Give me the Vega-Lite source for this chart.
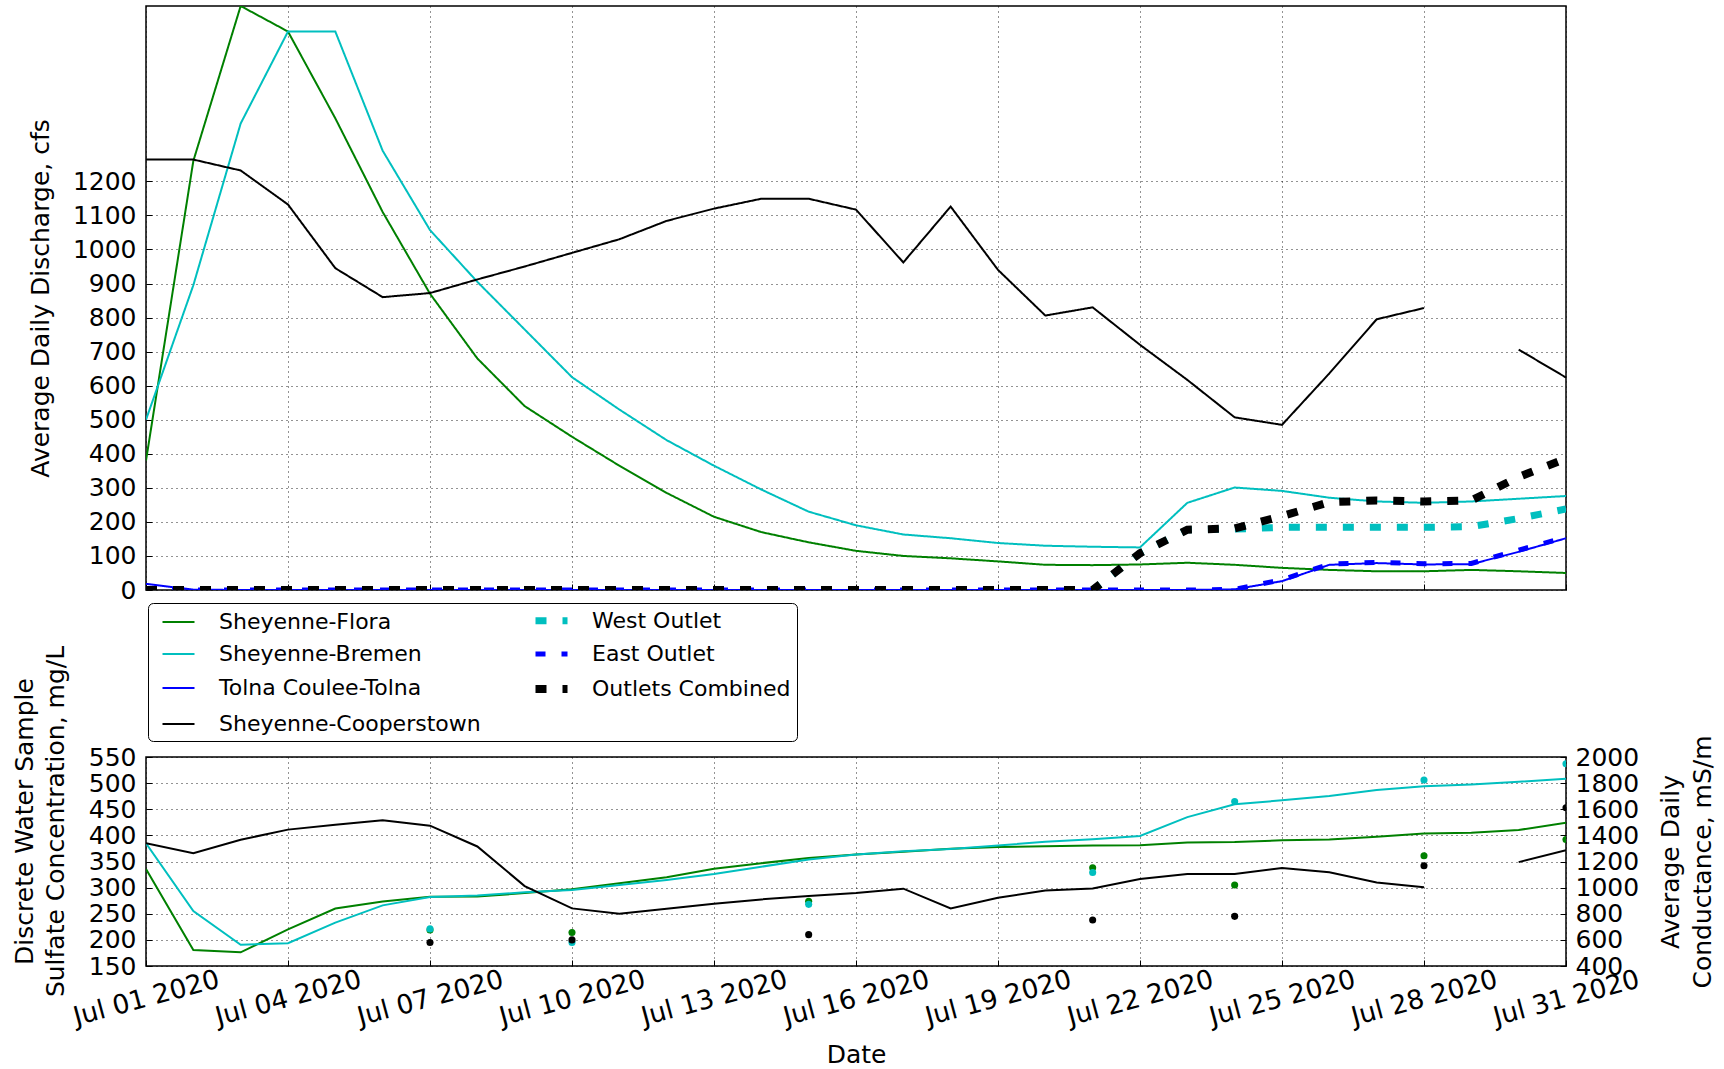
{
  "$schema": "https://vega.github.io/schema/vega-lite/v6.json",
  "padding": {"left": 11, "top": 5, "right": 0, "bottom": 0},
  "bounds": "flush",
  "spacing": 167,
  "datasets": {
    "discharge": [
      {"site":"Sheyenne-Flora","date":"2020-07-01","q":380},{"site":"Sheyenne-Flora","date":"2020-07-02","q":1260},{"site":"Sheyenne-Flora","date":"2020-07-03","q":1715},{"site":"Sheyenne-Flora","date":"2020-07-04","q":1640},{"site":"Sheyenne-Flora","date":"2020-07-05","q":1385},{"site":"Sheyenne-Flora","date":"2020-07-06","q":1110},{"site":"Sheyenne-Flora","date":"2020-07-07","q":870},{"site":"Sheyenne-Flora","date":"2020-07-08","q":680},{"site":"Sheyenne-Flora","date":"2020-07-09","q":540},{"site":"Sheyenne-Flora","date":"2020-07-10","q":450},{"site":"Sheyenne-Flora","date":"2020-07-11","q":365},{"site":"Sheyenne-Flora","date":"2020-07-12","q":285},{"site":"Sheyenne-Flora","date":"2020-07-13","q":215},{"site":"Sheyenne-Flora","date":"2020-07-14","q":170},{"site":"Sheyenne-Flora","date":"2020-07-15","q":140},{"site":"Sheyenne-Flora","date":"2020-07-16","q":115},{"site":"Sheyenne-Flora","date":"2020-07-17","q":100},{"site":"Sheyenne-Flora","date":"2020-07-18","q":93},{"site":"Sheyenne-Flora","date":"2020-07-19","q":84},{"site":"Sheyenne-Flora","date":"2020-07-20","q":74},{"site":"Sheyenne-Flora","date":"2020-07-21","q":73},{"site":"Sheyenne-Flora","date":"2020-07-22","q":75},{"site":"Sheyenne-Flora","date":"2020-07-23","q":80},{"site":"Sheyenne-Flora","date":"2020-07-24","q":74},{"site":"Sheyenne-Flora","date":"2020-07-25","q":65},{"site":"Sheyenne-Flora","date":"2020-07-26","q":59},{"site":"Sheyenne-Flora","date":"2020-07-27","q":55},{"site":"Sheyenne-Flora","date":"2020-07-28","q":55},{"site":"Sheyenne-Flora","date":"2020-07-29","q":59},{"site":"Sheyenne-Flora","date":"2020-07-30","q":55},{"site":"Sheyenne-Flora","date":"2020-07-31","q":50},
      {"site":"Sheyenne-Bremen","date":"2020-07-01","q":500},{"site":"Sheyenne-Bremen","date":"2020-07-02","q":895},{"site":"Sheyenne-Bremen","date":"2020-07-03","q":1370},{"site":"Sheyenne-Bremen","date":"2020-07-04","q":1640},{"site":"Sheyenne-Bremen","date":"2020-07-05","q":1640},{"site":"Sheyenne-Bremen","date":"2020-07-06","q":1290},{"site":"Sheyenne-Bremen","date":"2020-07-07","q":1057},{"site":"Sheyenne-Bremen","date":"2020-07-08","q":905},{"site":"Sheyenne-Bremen","date":"2020-07-09","q":765},{"site":"Sheyenne-Bremen","date":"2020-07-10","q":625},{"site":"Sheyenne-Bremen","date":"2020-07-11","q":530},{"site":"Sheyenne-Bremen","date":"2020-07-12","q":440},{"site":"Sheyenne-Bremen","date":"2020-07-13","q":365},{"site":"Sheyenne-Bremen","date":"2020-07-14","q":295},{"site":"Sheyenne-Bremen","date":"2020-07-15","q":230},{"site":"Sheyenne-Bremen","date":"2020-07-16","q":190},{"site":"Sheyenne-Bremen","date":"2020-07-17","q":163},{"site":"Sheyenne-Bremen","date":"2020-07-18","q":152},{"site":"Sheyenne-Bremen","date":"2020-07-19","q":138},{"site":"Sheyenne-Bremen","date":"2020-07-20","q":130},{"site":"Sheyenne-Bremen","date":"2020-07-21","q":127},{"site":"Sheyenne-Bremen","date":"2020-07-22","q":125},{"site":"Sheyenne-Bremen","date":"2020-07-23","q":256},{"site":"Sheyenne-Bremen","date":"2020-07-24","q":301},{"site":"Sheyenne-Bremen","date":"2020-07-25","q":291},{"site":"Sheyenne-Bremen","date":"2020-07-26","q":271},{"site":"Sheyenne-Bremen","date":"2020-07-27","q":260},{"site":"Sheyenne-Bremen","date":"2020-07-28","q":256},{"site":"Sheyenne-Bremen","date":"2020-07-29","q":260},{"site":"Sheyenne-Bremen","date":"2020-07-30","q":268},{"site":"Sheyenne-Bremen","date":"2020-07-31","q":276},
      {"site":"Tolna Coulee-Tolna","date":"2020-07-01","q":18},{"site":"Tolna Coulee-Tolna","date":"2020-07-02","q":1},{"site":"Tolna Coulee-Tolna","date":"2020-07-03","q":0},{"site":"Tolna Coulee-Tolna","date":"2020-07-04","q":0},{"site":"Tolna Coulee-Tolna","date":"2020-07-05","q":0},{"site":"Tolna Coulee-Tolna","date":"2020-07-06","q":0},{"site":"Tolna Coulee-Tolna","date":"2020-07-07","q":0},{"site":"Tolna Coulee-Tolna","date":"2020-07-08","q":0},{"site":"Tolna Coulee-Tolna","date":"2020-07-09","q":0},{"site":"Tolna Coulee-Tolna","date":"2020-07-10","q":0},{"site":"Tolna Coulee-Tolna","date":"2020-07-11","q":0},{"site":"Tolna Coulee-Tolna","date":"2020-07-12","q":0},{"site":"Tolna Coulee-Tolna","date":"2020-07-13","q":0},{"site":"Tolna Coulee-Tolna","date":"2020-07-14","q":0},{"site":"Tolna Coulee-Tolna","date":"2020-07-15","q":0},{"site":"Tolna Coulee-Tolna","date":"2020-07-16","q":0},{"site":"Tolna Coulee-Tolna","date":"2020-07-17","q":0},{"site":"Tolna Coulee-Tolna","date":"2020-07-18","q":0},{"site":"Tolna Coulee-Tolna","date":"2020-07-19","q":0},{"site":"Tolna Coulee-Tolna","date":"2020-07-20","q":0},{"site":"Tolna Coulee-Tolna","date":"2020-07-21","q":0},{"site":"Tolna Coulee-Tolna","date":"2020-07-22","q":0},{"site":"Tolna Coulee-Tolna","date":"2020-07-23","q":0},{"site":"Tolna Coulee-Tolna","date":"2020-07-24","q":2},{"site":"Tolna Coulee-Tolna","date":"2020-07-25","q":26},{"site":"Tolna Coulee-Tolna","date":"2020-07-26","q":74},{"site":"Tolna Coulee-Tolna","date":"2020-07-27","q":79},{"site":"Tolna Coulee-Tolna","date":"2020-07-28","q":75},{"site":"Tolna Coulee-Tolna","date":"2020-07-29","q":76},{"site":"Tolna Coulee-Tolna","date":"2020-07-30","q":112},{"site":"Tolna Coulee-Tolna","date":"2020-07-31","q":152},
      {"site":"Sheyenne-Cooperstown","date":"2020-07-01","q":1264},{"site":"Sheyenne-Cooperstown","date":"2020-07-02","q":1264},{"site":"Sheyenne-Cooperstown","date":"2020-07-03","q":1232},{"site":"Sheyenne-Cooperstown","date":"2020-07-04","q":1132},{"site":"Sheyenne-Cooperstown","date":"2020-07-05","q":945},{"site":"Sheyenne-Cooperstown","date":"2020-07-06","q":860},{"site":"Sheyenne-Cooperstown","date":"2020-07-07","q":872},{"site":"Sheyenne-Cooperstown","date":"2020-07-08","q":912},{"site":"Sheyenne-Cooperstown","date":"2020-07-09","q":950},{"site":"Sheyenne-Cooperstown","date":"2020-07-10","q":990},{"site":"Sheyenne-Cooperstown","date":"2020-07-11","q":1030},{"site":"Sheyenne-Cooperstown","date":"2020-07-12","q":1084},{"site":"Sheyenne-Cooperstown","date":"2020-07-13","q":1120},{"site":"Sheyenne-Cooperstown","date":"2020-07-14","q":1149},{"site":"Sheyenne-Cooperstown","date":"2020-07-15","q":1149},{"site":"Sheyenne-Cooperstown","date":"2020-07-16","q":1117},{"site":"Sheyenne-Cooperstown","date":"2020-07-17","q":962},{"site":"Sheyenne-Cooperstown","date":"2020-07-18","q":1126},{"site":"Sheyenne-Cooperstown","date":"2020-07-19","q":940},{"site":"Sheyenne-Cooperstown","date":"2020-07-20","q":806},{"site":"Sheyenne-Cooperstown","date":"2020-07-21","q":830},{"site":"Sheyenne-Cooperstown","date":"2020-07-22","q":720},{"site":"Sheyenne-Cooperstown","date":"2020-07-23","q":617},{"site":"Sheyenne-Cooperstown","date":"2020-07-24","q":507},{"site":"Sheyenne-Cooperstown","date":"2020-07-25","q":485},{"site":"Sheyenne-Cooperstown","date":"2020-07-26","q":636},{"site":"Sheyenne-Cooperstown","date":"2020-07-27","q":795},{"site":"Sheyenne-Cooperstown","date":"2020-07-28","q":828},{"site":"Sheyenne-Cooperstown","date":"2020-07-29","q":null},{"site":"Sheyenne-Cooperstown","date":"2020-07-30","q":706},{"site":"Sheyenne-Cooperstown","date":"2020-07-31","q":624},
      {"site":"West Outlet","date":"2020-07-01","q":0},{"site":"West Outlet","date":"2020-07-02","q":0},{"site":"West Outlet","date":"2020-07-03","q":0},{"site":"West Outlet","date":"2020-07-04","q":0},{"site":"West Outlet","date":"2020-07-05","q":0},{"site":"West Outlet","date":"2020-07-06","q":0},{"site":"West Outlet","date":"2020-07-07","q":0},{"site":"West Outlet","date":"2020-07-08","q":0},{"site":"West Outlet","date":"2020-07-09","q":0},{"site":"West Outlet","date":"2020-07-10","q":0},{"site":"West Outlet","date":"2020-07-11","q":0},{"site":"West Outlet","date":"2020-07-12","q":0},{"site":"West Outlet","date":"2020-07-13","q":0},{"site":"West Outlet","date":"2020-07-14","q":0},{"site":"West Outlet","date":"2020-07-15","q":0},{"site":"West Outlet","date":"2020-07-16","q":0},{"site":"West Outlet","date":"2020-07-17","q":0},{"site":"West Outlet","date":"2020-07-18","q":0},{"site":"West Outlet","date":"2020-07-19","q":0},{"site":"West Outlet","date":"2020-07-20","q":0},{"site":"West Outlet","date":"2020-07-21","q":0},{"site":"West Outlet","date":"2020-07-22","q":108},{"site":"West Outlet","date":"2020-07-23","q":177},{"site":"West Outlet","date":"2020-07-24","q":179},{"site":"West Outlet","date":"2020-07-25","q":184},{"site":"West Outlet","date":"2020-07-26","q":184},{"site":"West Outlet","date":"2020-07-27","q":184},{"site":"West Outlet","date":"2020-07-28","q":184},{"site":"West Outlet","date":"2020-07-29","q":186},{"site":"West Outlet","date":"2020-07-30","q":210},{"site":"West Outlet","date":"2020-07-31","q":238},
      {"site":"East Outlet","date":"2020-07-01","q":0},{"site":"East Outlet","date":"2020-07-02","q":0},{"site":"East Outlet","date":"2020-07-03","q":0},{"site":"East Outlet","date":"2020-07-04","q":0},{"site":"East Outlet","date":"2020-07-05","q":0},{"site":"East Outlet","date":"2020-07-06","q":0},{"site":"East Outlet","date":"2020-07-07","q":0},{"site":"East Outlet","date":"2020-07-08","q":0},{"site":"East Outlet","date":"2020-07-09","q":0},{"site":"East Outlet","date":"2020-07-10","q":0},{"site":"East Outlet","date":"2020-07-11","q":0},{"site":"East Outlet","date":"2020-07-12","q":0},{"site":"East Outlet","date":"2020-07-13","q":0},{"site":"East Outlet","date":"2020-07-14","q":0},{"site":"East Outlet","date":"2020-07-15","q":0},{"site":"East Outlet","date":"2020-07-16","q":0},{"site":"East Outlet","date":"2020-07-17","q":0},{"site":"East Outlet","date":"2020-07-18","q":0},{"site":"East Outlet","date":"2020-07-19","q":0},{"site":"East Outlet","date":"2020-07-20","q":0},{"site":"East Outlet","date":"2020-07-21","q":0},{"site":"East Outlet","date":"2020-07-22","q":0},{"site":"East Outlet","date":"2020-07-23","q":0},{"site":"East Outlet","date":"2020-07-24","q":2},{"site":"East Outlet","date":"2020-07-25","q":30},{"site":"East Outlet","date":"2020-07-26","q":76},{"site":"East Outlet","date":"2020-07-27","q":81},{"site":"East Outlet","date":"2020-07-28","q":77},{"site":"East Outlet","date":"2020-07-29","q":78},{"site":"East Outlet","date":"2020-07-30","q":117},{"site":"East Outlet","date":"2020-07-31","q":155},
      {"site":"Outlets Combined","date":"2020-07-01","q":0},{"site":"Outlets Combined","date":"2020-07-02","q":0},{"site":"Outlets Combined","date":"2020-07-03","q":0},{"site":"Outlets Combined","date":"2020-07-04","q":0},{"site":"Outlets Combined","date":"2020-07-05","q":0},{"site":"Outlets Combined","date":"2020-07-06","q":0},{"site":"Outlets Combined","date":"2020-07-07","q":0},{"site":"Outlets Combined","date":"2020-07-08","q":0},{"site":"Outlets Combined","date":"2020-07-09","q":0},{"site":"Outlets Combined","date":"2020-07-10","q":0},{"site":"Outlets Combined","date":"2020-07-11","q":0},{"site":"Outlets Combined","date":"2020-07-12","q":0},{"site":"Outlets Combined","date":"2020-07-13","q":0},{"site":"Outlets Combined","date":"2020-07-14","q":0},{"site":"Outlets Combined","date":"2020-07-15","q":0},{"site":"Outlets Combined","date":"2020-07-16","q":0},{"site":"Outlets Combined","date":"2020-07-17","q":0},{"site":"Outlets Combined","date":"2020-07-18","q":0},{"site":"Outlets Combined","date":"2020-07-19","q":0},{"site":"Outlets Combined","date":"2020-07-20","q":0},{"site":"Outlets Combined","date":"2020-07-21","q":0},{"site":"Outlets Combined","date":"2020-07-22","q":108},{"site":"Outlets Combined","date":"2020-07-23","q":177},{"site":"Outlets Combined","date":"2020-07-24","q":181},{"site":"Outlets Combined","date":"2020-07-25","q":217},{"site":"Outlets Combined","date":"2020-07-26","q":258},{"site":"Outlets Combined","date":"2020-07-27","q":263},{"site":"Outlets Combined","date":"2020-07-28","q":260},{"site":"Outlets Combined","date":"2020-07-29","q":263},{"site":"Outlets Combined","date":"2020-07-30","q":332},{"site":"Outlets Combined","date":"2020-07-31","q":386}
    ],
    "conductance": [
      {"site":"Sheyenne-Flora","date":"2020-07-01","c":1143},{"site":"Sheyenne-Flora","date":"2020-07-02","c":522},{"site":"Sheyenne-Flora","date":"2020-07-03","c":505},{"site":"Sheyenne-Flora","date":"2020-07-04","c":681},{"site":"Sheyenne-Flora","date":"2020-07-05","c":840},{"site":"Sheyenne-Flora","date":"2020-07-06","c":894},{"site":"Sheyenne-Flora","date":"2020-07-07","c":930},{"site":"Sheyenne-Flora","date":"2020-07-08","c":932},{"site":"Sheyenne-Flora","date":"2020-07-09","c":958},{"site":"Sheyenne-Flora","date":"2020-07-10","c":987},{"site":"Sheyenne-Flora","date":"2020-07-11","c":1033},{"site":"Sheyenne-Flora","date":"2020-07-12","c":1080},{"site":"Sheyenne-Flora","date":"2020-07-13","c":1144},{"site":"Sheyenne-Flora","date":"2020-07-14","c":1187},{"site":"Sheyenne-Flora","date":"2020-07-15","c":1226},{"site":"Sheyenne-Flora","date":"2020-07-16","c":1254},{"site":"Sheyenne-Flora","date":"2020-07-17","c":1275},{"site":"Sheyenne-Flora","date":"2020-07-18","c":1298},{"site":"Sheyenne-Flora","date":"2020-07-19","c":1311},{"site":"Sheyenne-Flora","date":"2020-07-20","c":1316},{"site":"Sheyenne-Flora","date":"2020-07-21","c":1323},{"site":"Sheyenne-Flora","date":"2020-07-22","c":1324},{"site":"Sheyenne-Flora","date":"2020-07-23","c":1345},{"site":"Sheyenne-Flora","date":"2020-07-24","c":1349},{"site":"Sheyenne-Flora","date":"2020-07-25","c":1362},{"site":"Sheyenne-Flora","date":"2020-07-26","c":1369},{"site":"Sheyenne-Flora","date":"2020-07-27","c":1390},{"site":"Sheyenne-Flora","date":"2020-07-28","c":1415},{"site":"Sheyenne-Flora","date":"2020-07-29","c":1420},{"site":"Sheyenne-Flora","date":"2020-07-30","c":1441},{"site":"Sheyenne-Flora","date":"2020-07-31","c":1497},
      {"site":"Sheyenne-Bremen","date":"2020-07-01","c":1340},{"site":"Sheyenne-Bremen","date":"2020-07-02","c":820},{"site":"Sheyenne-Bremen","date":"2020-07-03","c":562},{"site":"Sheyenne-Bremen","date":"2020-07-04","c":575},{"site":"Sheyenne-Bremen","date":"2020-07-05","c":732},{"site":"Sheyenne-Bremen","date":"2020-07-06","c":864},{"site":"Sheyenne-Bremen","date":"2020-07-07","c":928},{"site":"Sheyenne-Bremen","date":"2020-07-08","c":940},{"site":"Sheyenne-Bremen","date":"2020-07-09","c":964},{"site":"Sheyenne-Bremen","date":"2020-07-10","c":982},{"site":"Sheyenne-Bremen","date":"2020-07-11","c":1020},{"site":"Sheyenne-Bremen","date":"2020-07-12","c":1059},{"site":"Sheyenne-Bremen","date":"2020-07-13","c":1104},{"site":"Sheyenne-Bremen","date":"2020-07-14","c":1160},{"site":"Sheyenne-Bremen","date":"2020-07-15","c":1216},{"site":"Sheyenne-Bremen","date":"2020-07-16","c":1254},{"site":"Sheyenne-Bremen","date":"2020-07-17","c":1278},{"site":"Sheyenne-Bremen","date":"2020-07-18","c":1296},{"site":"Sheyenne-Bremen","date":"2020-07-19","c":1322},{"site":"Sheyenne-Bremen","date":"2020-07-20","c":1352},{"site":"Sheyenne-Bremen","date":"2020-07-21","c":1370},{"site":"Sheyenne-Bremen","date":"2020-07-22","c":1395},{"site":"Sheyenne-Bremen","date":"2020-07-23","c":1540},{"site":"Sheyenne-Bremen","date":"2020-07-24","c":1638},{"site":"Sheyenne-Bremen","date":"2020-07-25","c":1668},{"site":"Sheyenne-Bremen","date":"2020-07-26","c":1701},{"site":"Sheyenne-Bremen","date":"2020-07-27","c":1747},{"site":"Sheyenne-Bremen","date":"2020-07-28","c":1777},{"site":"Sheyenne-Bremen","date":"2020-07-29","c":1790},{"site":"Sheyenne-Bremen","date":"2020-07-30","c":1810},{"site":"Sheyenne-Bremen","date":"2020-07-31","c":1833},
      {"site":"Sheyenne-Cooperstown","date":"2020-07-01","c":1340},{"site":"Sheyenne-Cooperstown","date":"2020-07-02","c":1264},{"site":"Sheyenne-Cooperstown","date":"2020-07-03","c":1367},{"site":"Sheyenne-Cooperstown","date":"2020-07-04","c":1444},{"site":"Sheyenne-Cooperstown","date":"2020-07-05","c":1482},{"site":"Sheyenne-Cooperstown","date":"2020-07-06","c":1515},{"site":"Sheyenne-Cooperstown","date":"2020-07-07","c":1474},{"site":"Sheyenne-Cooperstown","date":"2020-07-08","c":1315},{"site":"Sheyenne-Cooperstown","date":"2020-07-09","c":1012},{"site":"Sheyenne-Cooperstown","date":"2020-07-10","c":841},{"site":"Sheyenne-Cooperstown","date":"2020-07-11","c":800},{"site":"Sheyenne-Cooperstown","date":"2020-07-12","c":838},{"site":"Sheyenne-Cooperstown","date":"2020-07-13","c":876},{"site":"Sheyenne-Cooperstown","date":"2020-07-14","c":910},{"site":"Sheyenne-Cooperstown","date":"2020-07-15","c":935},{"site":"Sheyenne-Cooperstown","date":"2020-07-16","c":958},{"site":"Sheyenne-Cooperstown","date":"2020-07-17","c":992},{"site":"Sheyenne-Cooperstown","date":"2020-07-18","c":840},{"site":"Sheyenne-Cooperstown","date":"2020-07-19","c":922},{"site":"Sheyenne-Cooperstown","date":"2020-07-20","c":978},{"site":"Sheyenne-Cooperstown","date":"2020-07-21","c":993},{"site":"Sheyenne-Cooperstown","date":"2020-07-22","c":1066},{"site":"Sheyenne-Cooperstown","date":"2020-07-23","c":1105},{"site":"Sheyenne-Cooperstown","date":"2020-07-24","c":1104},{"site":"Sheyenne-Cooperstown","date":"2020-07-25","c":1151},{"site":"Sheyenne-Cooperstown","date":"2020-07-26","c":1117},{"site":"Sheyenne-Cooperstown","date":"2020-07-27","c":1040},{"site":"Sheyenne-Cooperstown","date":"2020-07-28","c":1003},{"site":"Sheyenne-Cooperstown","date":"2020-07-29","c":null},{"site":"Sheyenne-Cooperstown","date":"2020-07-30","c":1195},{"site":"Sheyenne-Cooperstown","date":"2020-07-31","c":1286}
    ],
    "sulfate": [
      {"site":"Sheyenne-Flora","date":"2020-07-07","s":219},{"site":"Sheyenne-Flora","date":"2020-07-10","s":214},{"site":"Sheyenne-Flora","date":"2020-07-15","s":274},{"site":"Sheyenne-Flora","date":"2020-07-21","s":338},{"site":"Sheyenne-Flora","date":"2020-07-24","s":305},{"site":"Sheyenne-Flora","date":"2020-07-28","s":361},{"site":"Sheyenne-Flora","date":"2020-07-31","s":392},
      {"site":"Sheyenne-Bremen","date":"2020-07-07","s":221},{"site":"Sheyenne-Bremen","date":"2020-07-10","s":195},{"site":"Sheyenne-Bremen","date":"2020-07-15","s":268},{"site":"Sheyenne-Bremen","date":"2020-07-21","s":329},{"site":"Sheyenne-Bremen","date":"2020-07-24","s":465},{"site":"Sheyenne-Bremen","date":"2020-07-28","s":506},{"site":"Sheyenne-Bremen","date":"2020-07-31","s":537},
      {"site":"Sheyenne-Cooperstown","date":"2020-07-07","s":195},{"site":"Sheyenne-Cooperstown","date":"2020-07-10","s":200},{"site":"Sheyenne-Cooperstown","date":"2020-07-15","s":210},{"site":"Sheyenne-Cooperstown","date":"2020-07-21","s":238},{"site":"Sheyenne-Cooperstown","date":"2020-07-24","s":245},{"site":"Sheyenne-Cooperstown","date":"2020-07-28","s":342},{"site":"Sheyenne-Cooperstown","date":"2020-07-31","s":453}
    ]
  },
  "vconcat": [
    {
      "width": 1420,
      "height": 584,
      "data": {"name": "discharge"},
      "mark": {"type": "line", "clip": true, "invalid": "break-paths-filter-domains"},
      "encoding": {
        "x": {
          "field": "date", "type": "temporal",
          "scale": {"type": "utc", "domain": [{"year": 2020, "month": 7, "date": 1, "utc": true}, {"year": 2020, "month": 7, "date": 31, "utc": true}]},
          "axis": {
            "values": [{"year":2020,"month":7,"date":1,"utc":true},{"year":2020,"month":7,"date":4,"utc":true},{"year":2020,"month":7,"date":7,"utc":true},{"year":2020,"month":7,"date":10,"utc":true},{"year":2020,"month":7,"date":13,"utc":true},{"year":2020,"month":7,"date":16,"utc":true},{"year":2020,"month":7,"date":19,"utc":true},{"year":2020,"month":7,"date":22,"utc":true},{"year":2020,"month":7,"date":25,"utc":true},{"year":2020,"month":7,"date":28,"utc":true},{"year":2020,"month":7,"date":31,"utc":true}],
            "labels": false, "title": null, "grid": true
          }
        },
        "y": {
          "field": "q", "type": "quantitative",
          "scale": {"domain": [0, 1715], "nice": false, "zero": false},
          "axis": {
            "values": [0,100,200,300,400,500,600,700,800,900,1000,1100,1200],
            "format": "d",
            "grid": true,
            "labelPadding": 16,
            "title": "Average Daily Discharge, cfs",
            "titleAngle": -90,
            "titleX": -106, "titleY": 292, "titleAlign": "center", "titleBaseline": "middle"
          }
        },
        "color": {
          "field": "site", "type": "nominal",
          "scale": {
            "domain": ["Sheyenne-Flora","Sheyenne-Bremen","Tolna Coulee-Tolna","Sheyenne-Cooperstown","West Outlet","East Outlet","Outlets Combined"],
            "range": ["#008000","#00BFBF","#0000FF","#000000","#00BFBF","#0000FF","#000000"]
          },
          "legend": {
            "orient": "none", "legendX": 2, "legendY": 597, "columns": 2, "title": null,
            "symbolType": "M-2,0H2", "symbolSize": 256, "symbolOffset": 12.5, "labelOffset": 28.5,
            "columnPadding": 38, "rowPadding": 8, "padding": 6,
            "labelFontSize": 22, "labelFont": "DejaVu Sans", "labelColor": "#000", "labelLimit": 0,
            "strokeColor": "#000", "fillColor": "#fff", "cornerRadius": 5
          }
        },
        "strokeDash": {
          "field": "site", "type": "nominal",
          "scale": {
            "domain": ["Sheyenne-Flora","Sheyenne-Bremen","Tolna Coulee-Tolna","Sheyenne-Cooperstown","West Outlet","East Outlet","Outlets Combined"],
            "range": [[1,0],[1,0],[1,0],[1,0],[11,16],[10,16],[11,16]]
          }
        },
        "strokeWidth": {
          "field": "site", "type": "nominal",
          "scale": {
            "type": "ordinal",
            "domain": ["Sheyenne-Flora","Sheyenne-Bremen","Tolna Coulee-Tolna","Sheyenne-Cooperstown","West Outlet","East Outlet","Outlets Combined"],
            "range": [2,2,2,2,7,5,8]
          }
        }
      }
    },
    {
      "width": 1420,
      "height": 209,
      "encoding": {
        "x": {
          "field": "date", "type": "temporal",
          "scale": {"type": "utc", "domain": [{"year": 2020, "month": 7, "date": 1, "utc": true}, {"year": 2020, "month": 7, "date": 31, "utc": true}]},
          "axis": {
            "values": [{"year":2020,"month":7,"date":1,"utc":true},{"year":2020,"month":7,"date":4,"utc":true},{"year":2020,"month":7,"date":7,"utc":true},{"year":2020,"month":7,"date":10,"utc":true},{"year":2020,"month":7,"date":13,"utc":true},{"year":2020,"month":7,"date":16,"utc":true},{"year":2020,"month":7,"date":19,"utc":true},{"year":2020,"month":7,"date":22,"utc":true},{"year":2020,"month":7,"date":25,"utc":true},{"year":2020,"month":7,"date":28,"utc":true},{"year":2020,"month":7,"date":31,"utc":true}],
            "labelExpr": "utcFormat(datum.value, '%b %d %Y')",
            "labelFontSize": 26.5,
            "labelAngle": -15, "labelAlign": "center", "labelBaseline": "middle", "labelPadding": 38,
            "grid": true,
            "title": "Date", "titleX": 710, "titleY": 88, "titleAlign": "center", "titleBaseline": "middle"
          }
        }
      },
      "layer": [
        {
          "data": {"name": "conductance"},
          "mark": {"type": "line", "clip": true, "strokeWidth": 2, "invalid": "break-paths-filter-domains"},
          "encoding": {
            "y": {
              "field": "c", "type": "quantitative",
              "scale": {"domain": [400, 2000], "nice": false, "zero": false},
              "axis": {
                "orient": "right",
                "values": [400,600,800,1000,1200,1400,1600,1800,2000],
                "format": "d",
                "grid": false,
                "labelPadding": 15,
                "title": ["Average Daily", "Conductance, mS/m"],
                "titleAngle": -90, "titleX": 104, "titleY": 104.5, "titleAlign": "center", "titleBaseline": "middle", "titleLineHeight": 32
              }
            },
            "color": {
              "field": "site", "type": "nominal",
              "scale": {"domain": ["Sheyenne-Flora","Sheyenne-Bremen","Sheyenne-Cooperstown"], "range": ["#008000","#00BFBF","#000000"]},
              "legend": null
            }
          }
        },
        {
          "data": {"name": "sulfate"},
          "mark": {"type": "point", "filled": true, "size": 50, "opacity": 1, "clip": true},
          "encoding": {
            "y": {
              "field": "s", "type": "quantitative",
              "scale": {"domain": [150, 550], "nice": false, "zero": false},
              "axis": {
                "orient": "left",
                "values": [150,200,250,300,350,400,450,500,550],
                "format": "d",
                "grid": true,
                "labelPadding": 16,
                "title": ["Discrete Water Sample", "Sulfate Concentration, mg/L"],
                "titleAngle": -90, "titleX": -122, "titleY": 64, "titleAlign": "center", "titleBaseline": "middle", "titleLineHeight": 31
              }
            },
            "color": {
              "field": "site", "type": "nominal",
              "scale": {"domain": ["Sheyenne-Flora","Sheyenne-Bremen","Sheyenne-Cooperstown"], "range": ["#008000","#00BFBF","#000000"]},
              "legend": null
            }
          }
        }
      ],
      "resolve": {"scale": {"y": "independent"}}
    }
  ],
  "resolve": {
    "scale": {"color": "independent", "strokeDash": "independent", "strokeWidth": "independent"},
    "legend": {"color": "independent", "strokeDash": "independent", "strokeWidth": "independent"}
  },
  "config": {
    "font": "DejaVu Sans",
    "view": {"stroke": "#000", "strokeWidth": 1.5},
    "axis": {
      "labelFont": "DejaVu Sans", "titleFont": "DejaVu Sans",
      "labelFontSize": 25, "titleFontSize": 25, "titleFontWeight": "normal",
      "labelColor": "#000", "titleColor": "#000",
      "gridColor": "#000", "gridDash": [1, 4], "gridOpacity": 0.85, "gridWidth": 1,
      "domain": false, "tickColor": "#000", "tickSize": -6, "tickWidth": 1,
      "labelOverlap": false, "labelFlush": false, "labelBound": false
    }
  }
}
